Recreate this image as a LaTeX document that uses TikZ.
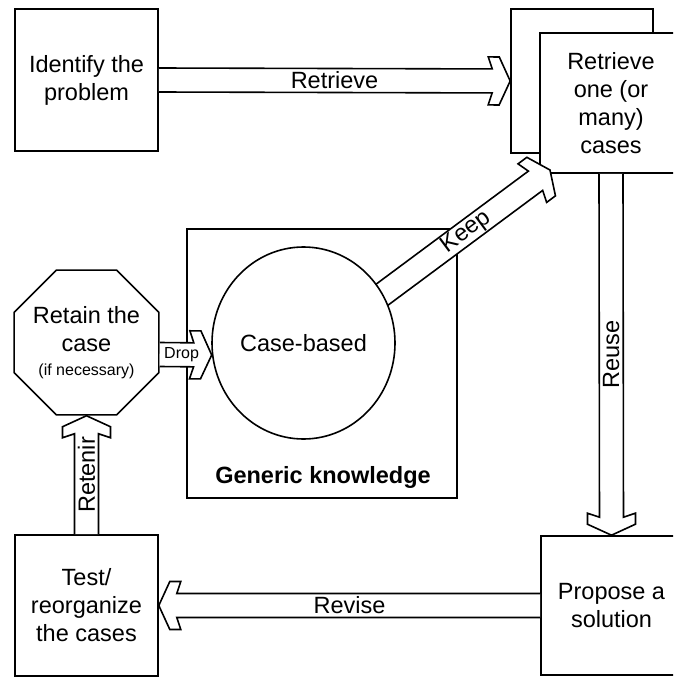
\documentclass[tikz,border=0pt]{standalone}
\usepackage{fontspec}
\setmainfont{Liberation Sans}
\usetikzlibrary{calc,shapes.geometric}

\newcommand\mainsize{\fontsize{23.5}{28}\selectfont}
\newcommand\smallsize{\fontsize{16}{19}\selectfont}

\tikzset{
  outline/.style={draw=black, line width=1.6pt},
  box/.style={outline, fill=white, rectangle, align=center, inner sep=0pt, font=\mainsize},
  lbl/.style={inner sep=0pt, font=\mainsize, text=black},
  arrowline/.style={line width=1.6pt, line join=miter},
}

% Hollow block arrow from #1 to its tip at #2 (shaft 24pt, head 48pt wide)
\newcommand\blockarrow[2]{%
  \path let \p1=(#1), \p2=(#2) in \pgfextra{%
    \pgfmathsetmacro\arrang{atan2(\y2-\y1,\x2-\x1)}\global\let\arrang\arrang
    \pgfmathsetmacro\arrlen{veclen(\x2-\x1,\y2-\y1)}\global\let\arrlen\arrlen};
  \begin{scope}[shift={(#1)}, rotate=\arrang]
    \fill[white] (0pt,-12pt) -- ({\arrlen pt-18pt},-12pt) -- ({\arrlen pt-22pt},-24pt)
      -- ({\arrlen pt-11pt},-24pt) -- (\arrlen pt,0pt) -- ({\arrlen pt-11pt},24pt)
      -- ({\arrlen pt-22pt},24pt) -- ({\arrlen pt-18pt},12pt) -- (0pt,12pt) -- cycle;
    \draw[arrowline] (0pt,-12pt) -- ({\arrlen pt-18pt},-12pt) -- ({\arrlen pt-22pt},-24pt)
      -- ({\arrlen pt-11pt},-24pt) -- (\arrlen pt,0pt) -- ({\arrlen pt-11pt},24pt)
      -- ({\arrlen pt-22pt},24pt) -- ({\arrlen pt-18pt},12pt) -- (0pt,12pt);
  \end{scope}}

\begin{document}
\begin{tikzpicture}[x=1pt, y=-1pt]
  \useasboundingbox (0,0) rectangle (673,677);
  \clip (0,0) rectangle (673,677);
  \fill[white] (0,0) rectangle (673,677);

  % process boxes
  \node[box, minimum width=143pt, minimum height=142pt] (id) at (86.5,80) {Identify the\\problem};
  \node[box, minimum width=142pt, minimum height=144pt] (bk) at (582,81) {};
  \node[box, minimum width=142pt, minimum height=140pt] (fr) at (611,103) {Retrieve\\one (or\\many)\\cases};
  \node[box, minimum width=141pt, minimum height=139pt] (pr) at (611.5,605.5) {Propose a\\solution};
  \node[box, minimum width=143pt, minimum height=141pt] (ts) at (86.5,605.5) {Test/\\reorganize\\the cases};

  % knowledge base
  \node[box, minimum width=270pt, minimum height=269pt] (gk) at (322,363.5) {};
  \node[lbl, font=\mainsize\bfseries] (gkl) at (323,477) {Generic knowledge};

  % Retrieve
  \blockarrow{id.east}{bk.west}
  \path (id.east) -- (bk.west) node[midway, lbl] (lret) {Retrieve};

  % Keep
  \coordinate (keepA) at (303.5,353);
  \coordinate (keepB) at (550,170);
  \blockarrow{keepA}{keepB}
  \path (keepA) -- (keepB) node[pos=0.66, sloped, lbl] (lkeep) {Keep};

  \node[outline, fill=white, ellipse, minimum width=183pt, minimum height=192pt,
        inner sep=0pt, font=\mainsize] (cb) at (303.5,343) {Case-based};

  % Reuse
  \blockarrow{fr.south}{pr.north}
  \path (fr.south) -- (pr.north) node[midway, lbl, rotate=90] (lreuse) {Reuse};

  % Revise
  \blockarrow{pr.west}{ts.east}
  \path (pr.west) -- (ts.east) node[midway, lbl] (lrev) {Revise};

  % retain step: octagon outline with its text on top
  \node[outline, fill=white, regular polygon, regular polygon sides=8,
        minimum size=156.8pt, inner sep=0pt] (rt) at (86.5,342.5) {};
  \node[lbl, align=center] (rtl) at (86.5,343) {Retain the\\case\\[-4pt]{\smallsize (if necessary)}};

  % Retenir
  \blockarrow{ts.north}{rt.south}
  \path (ts.north) -- (rt.south) node[midway, lbl, rotate=90] (lretn) {Retenir};

  % Drop
  \coordinate (dropA) at ($(rt.east)+(0,12)$);
  \coordinate (dropB) at ($(cb.west)+(0.5,12)$);
  \blockarrow{dropA}{dropB}
  \path (dropA) -- (dropB) node[pos=0.42, lbl, font=\smallsize] (ldrop) {Drop};
\end{tikzpicture}
\end{document}
